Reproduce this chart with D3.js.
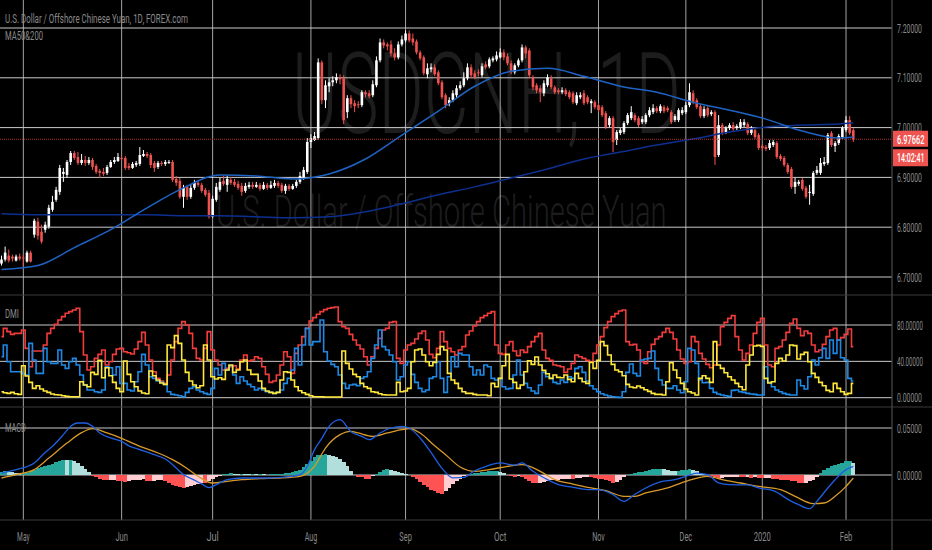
<!DOCTYPE html>
<html>
<head>
<meta charset="utf-8">
<script src="https://cdn.jsdelivr.net/npm/d3@7"></script>
<style>
  html, body { margin: 0; padding: 0; background: #000; }
  svg { display: block; }
  text { font-family: Roboto, "Liberation Sans", sans-serif; }
</style>
</head>
<body>
<svg id="chart" width="932" height="550"></svg>
<script>
// daily candles, May 2019 - Feb 2020
var opens = [6.727,6.735,6.743,6.741,6.733,6.741,6.739,6.731,6.749,6.785,
6.811,6.791,6.795,6.801,6.835,6.855,6.871,6.907,6.905,6.931,
6.949,6.941,6.929,6.935,6.929,6.935,6.923,6.913,6.911,6.909,
6.921,6.931,6.933,6.939,6.939,6.923,6.919,6.925,6.927,6.943,
6.947,6.945,6.929,6.921,6.929,6.927,6.929,6.931,6.897,6.893,
6.861,6.881,6.861,6.879,6.889,6.885,6.875,6.869,6.821,6.855,
6.875,6.893,6.885,6.895,6.891,6.887,6.883,6.873,6.881,6.885,
6.881,6.885,6.877,6.885,6.879,6.883,6.889,6.885,6.873,6.883,
6.877,6.883,6.891,6.899,6.911,6.971,6.975,6.979,7.131,7.055,
7.083,7.091,7.095,7.101,7.099,7.031,7.059,7.049,7.047,7.045,
7.071,7.069,7.065,7.085,7.135,7.171,7.167,7.167,7.149,7.141,
7.167,7.175,7.189,7.179,7.173,7.151,7.141,7.107,7.117,7.121,
7.111,7.091,7.065,7.049,7.055,7.065,7.079,7.085,7.099,7.121,
7.109,7.111,7.105,7.127,7.123,7.135,7.137,7.141,7.151,7.143,
7.129,7.111,7.125,7.135,7.161,7.155,7.101,7.085,7.079,7.069,
7.085,7.099,7.081,7.075,7.071,7.075,7.071,7.069,7.049,7.061,
7.069,7.061,7.049,7.051,7.045,7.041,7.029,7.005,7.019,6.975,
6.989,6.991,7.009,7.019,7.025,7.019,7.011,7.011,7.025,7.031,
7.039,7.033,7.041,7.039,7.031,7.015,7.015,7.029,7.031,7.045,
7.069,7.055,7.043,7.023,7.039,7.027,7.031,6.945,7.005,6.991,
6.999,7.005,6.999,7.001,7.005,7.007,6.989,6.995,6.985,6.963,
6.961,6.959,6.965,6.969,6.943,6.939,6.925,6.917,6.881,6.887,
6.895,6.879,6.869,6.867,6.909,6.909,6.927,6.929,6.989,6.963,
6.969,6.981,6.995,7.015,6.995];
var highs = [6.743,6.761,6.755,6.745,6.745,6.747,6.745,6.753,6.753,6.817,
6.819,6.805,6.811,6.845,6.863,6.881,6.925,6.919,6.935,6.953,
6.953,6.951,6.947,6.943,6.941,6.939,6.927,6.917,6.919,6.925,
6.935,6.941,6.949,6.943,6.943,6.929,6.931,6.933,6.961,6.955,
6.951,6.949,6.933,6.933,6.933,6.935,6.935,6.935,6.903,6.899,
6.885,6.885,6.887,6.895,6.895,6.889,6.879,6.875,6.863,6.889,
6.899,6.903,6.903,6.901,6.897,6.893,6.889,6.889,6.891,6.891,
6.891,6.889,6.891,6.889,6.893,6.895,6.893,6.889,6.887,6.887,
6.887,6.895,6.911,6.921,6.979,6.987,6.991,7.139,7.135,7.095,
7.099,7.103,7.109,7.107,7.105,7.065,7.065,7.055,7.053,7.075,
7.075,7.075,7.095,7.143,7.179,7.177,7.171,7.175,7.159,7.173,
7.185,7.195,7.195,7.189,7.177,7.155,7.145,7.129,7.129,7.127,
7.115,7.095,7.069,7.061,7.075,7.085,7.093,7.111,7.129,7.127,
7.115,7.117,7.129,7.133,7.141,7.143,7.153,7.159,7.157,7.149,
7.135,7.129,7.139,7.167,7.165,7.159,7.105,7.089,7.085,7.095,
7.107,7.105,7.085,7.079,7.081,7.079,7.075,7.073,7.071,7.071,
7.075,7.065,7.057,7.055,7.049,7.045,7.033,7.023,7.023,6.995,
6.999,7.013,7.029,7.043,7.029,7.023,7.023,7.029,7.041,7.047,
7.043,7.047,7.045,7.043,7.035,7.027,7.039,7.041,7.051,7.089,
7.075,7.059,7.047,7.043,7.043,7.035,7.035,7.025,7.009,7.003,
7.009,7.011,7.007,7.017,7.017,7.011,7.003,6.999,6.989,6.967,
6.965,6.975,6.975,6.973,6.947,6.943,6.929,6.921,6.899,6.895,
6.899,6.883,6.885,6.913,6.923,6.939,6.941,6.989,6.993,6.973,
6.987,7.003,7.023,7.023,6.999];
var lows = [6.723,6.731,6.729,6.731,6.731,6.733,6.721,6.729,6.729,6.779,
6.775,6.767,6.789,6.797,6.831,6.851,6.865,6.891,6.899,6.925,
6.935,6.925,6.925,6.923,6.925,6.915,6.907,6.899,6.903,6.905,
6.919,6.927,6.931,6.933,6.915,6.915,6.917,6.921,6.923,6.941,
6.939,6.919,6.911,6.917,6.923,6.923,6.927,6.891,6.883,6.857,
6.839,6.855,6.857,6.875,6.881,6.869,6.861,6.817,6.819,6.851,
6.871,6.883,6.871,6.885,6.881,6.875,6.863,6.869,6.877,6.877,
6.879,6.873,6.875,6.875,6.877,6.879,6.879,6.869,6.867,6.873,
6.875,6.879,6.887,6.895,6.907,6.959,6.973,6.975,7.047,7.039,
7.071,7.083,7.089,7.087,7.007,7.019,7.039,7.031,7.039,7.041,
7.061,7.059,7.061,7.081,7.131,7.159,7.155,7.143,7.135,7.137,
7.163,7.171,7.171,7.165,7.147,7.135,7.105,7.099,7.111,7.103,
7.085,7.057,7.039,7.043,7.051,7.059,7.075,7.081,7.095,7.099,
7.097,7.103,7.101,7.117,7.119,7.131,7.133,7.139,7.135,7.125,
7.107,7.107,7.121,7.131,7.139,7.099,7.075,7.069,7.051,7.063,
7.081,7.077,7.067,7.067,7.067,7.063,7.057,7.047,7.045,7.057,
7.045,7.047,7.029,7.037,7.031,7.021,6.997,7.001,6.951,6.965,
6.985,6.987,7.005,7.015,7.011,7.001,7.007,7.007,7.021,7.027,
7.029,7.029,7.029,7.031,7.007,7.011,7.011,7.025,7.027,7.041,
7.047,7.037,7.019,7.019,7.021,7.023,6.925,6.941,6.985,6.987,
6.995,6.993,6.995,6.997,7.001,6.985,6.985,6.977,6.955,6.955,
6.953,6.955,6.961,6.937,6.933,6.921,6.907,6.877,6.867,6.883,
6.873,6.857,6.845,6.863,6.905,6.905,6.923,6.925,6.961,6.951,
6.965,6.977,6.991,6.985,6.971];
var closes = [6.735,6.749,6.733,6.737,6.741,6.737,6.737,6.749,6.731,6.813,
6.783,6.771,6.805,6.839,6.851,6.875,6.919,6.911,6.931,6.949,
6.939,6.929,6.935,6.929,6.935,6.921,6.911,6.909,6.907,6.921,
6.931,6.935,6.941,6.937,6.919,6.919,6.927,6.929,6.945,6.947,
6.943,6.925,6.919,6.929,6.927,6.931,6.931,6.895,6.889,6.861,
6.879,6.861,6.879,6.889,6.885,6.873,6.865,6.821,6.857,6.881,
6.891,6.887,6.897,6.889,6.885,6.879,6.871,6.883,6.885,6.881,
6.885,6.877,6.885,6.879,6.885,6.889,6.883,6.873,6.883,6.877,
6.883,6.891,6.903,6.915,6.971,6.979,6.983,7.131,7.055,7.085,
7.091,7.095,7.101,7.097,7.015,7.059,7.047,7.043,7.045,7.071,
7.067,7.063,7.087,7.135,7.171,7.165,7.163,7.149,7.141,7.167,
7.177,7.189,7.175,7.171,7.151,7.139,7.109,7.119,7.121,7.107,
7.089,7.061,7.045,7.055,7.069,7.079,7.085,7.099,7.121,7.105,
7.101,7.109,7.123,7.121,7.137,7.139,7.145,7.151,7.141,7.129,
7.111,7.125,7.135,7.161,7.149,7.105,7.081,7.075,7.071,7.089,
7.101,7.081,7.071,7.071,7.075,7.067,7.061,7.051,7.065,7.065,
7.049,7.051,7.053,7.041,7.035,7.025,7.001,7.019,6.971,6.991,
6.995,7.009,7.025,7.031,7.015,7.005,7.017,7.025,7.035,7.039,
7.033,7.043,7.033,7.035,7.011,7.023,7.035,7.035,7.045,7.071,
7.051,7.041,7.023,7.037,7.025,7.031,6.941,7.005,6.989,6.999,
7.005,6.997,7.003,7.011,7.011,6.989,6.997,6.981,6.959,6.959,
6.957,6.969,6.971,6.941,6.937,6.925,6.911,6.881,6.891,6.891,
6.877,6.861,6.871,6.909,6.915,6.929,6.931,6.985,6.965,6.969,
6.983,6.999,7.015,6.989,6.97662];

// moving averages, read at every tenth bar
var maIdx = [0,10,20,30,40,50,60,70,80,90,100,110,120,130,140,150,160,170,180,190,200,210,220,230,234];
var ma50 = [6.715,6.723,6.759,6.795,6.839,6.879,6.905,6.903,6.897,6.907,6.937,6.985,7.033,7.083,7.113,7.119,7.103,7.083,7.071,7.051,7.035,7.017,6.993,6.979,6.981];
var ma200 = [6.827,6.825,6.825,6.825,6.825,6.823,6.823,6.821,6.819,6.821,6.831,6.847,6.865,6.881,6.899,6.917,6.937,6.951,6.965,6.977,6.991,7.001,7.005,7.007,7.009];

// DMI
var dmiRed = [67.2,76.3,72.7,69.7,70.8,70.8,74.5,54.3,34.1,51.4,
51.4,51.4,58.0,70.8,76.3,80.7,85.5,89.2,92.9,94.7,
96.5,98.4,72.7,47.0,30.5,34.1,43.3,47.7,52.5,36.0,
39.6,47.7,53.6,54.3,50.6,49.5,48.1,53.6,61.7,71.9,
58.0,41.5,28.6,21.3,18.4,15.8,25.0,41.5,61.7,76.3,
83.7,80.0,70.8,54.3,43.3,41.5,54.3,72.7,52.5,41.5,
36.0,30.5,32.3,34.1,35.2,31.6,41.5,47.0,40.4,41.5,
45.1,43.3,34.1,25.7,16.9,18.4,25.0,36.0,50.6,45.1,
26.8,48.8,58.0,67.2,76.3,84.4,88.1,91.8,94.7,96.9,
98.4,99.1,99.8,83.7,78.2,76.3,69.7,63.5,58.0,53.6,
45.1,36.0,45.1,54.3,65.3,74.5,76.3,82.9,83.7,43.3,
37.8,52.5,58.0,59.8,64.6,70.8,73.4,63.5,47.7,44.0,
54.3,72.7,61.7,54.3,50.6,47.0,52.5,56.2,69.0,73.4,
78.9,83.7,88.1,90.3,92.9,94.7,58.0,48.8,47.7,58.0,
61.7,51.4,46.2,52.5,49.9,56.2,61.7,67.2,70.8,52.5,
43.3,41.1,36.0,35.2,34.1,27.9,31.6,37.8,47.0,45.1,
43.3,41.1,39.6,48.8,58.0,67.2,77.1,83.7,89.2,92.5,
95.4,96.5,61.7,58.0,58.7,52.5,39.6,37.8,50.6,58.7,
64.6,67.2,71.9,76.3,71.9,64.6,52.5,42.6,37.8,39.6,
67.2,61.7,48.8,42.6,36.7,33.0,36.0,58.0,78.2,82.9,
87.3,90.3,67.2,52.5,41.5,48.8,58.0,70.8,82.9,87.3,
58.0,36.0,34.1,54.3,56.2,63.5,71.9,81.8,86.6,76.3,
68.3,73.4,70.8,58.0,50.6,52.5,58.7,67.2,74.5,76.3,
63.5,66.1,69.7,75.6,56.2];
var dmiBlue = [45.1,58.0,39.6,28.6,28.6,28.6,26.8,25.0,59.8,41.5,
26.8,26.8,54.3,39.6,37.8,37.8,52.5,36.0,32.3,39.6,
43.3,36.0,25.0,13.9,8.4,8.4,6.6,5.9,8.4,34.1,
33.0,25.0,34.1,15.8,15.8,8.4,7.3,17.6,28.6,47.7,
36.0,23.1,21.3,18.4,16.9,14.7,6.6,3.7,2.9,2.2,
1.1,5.9,10.3,12.1,8.4,6.6,4.8,3.7,10.3,32.3,
25.0,37.8,30.5,35.2,25.0,15.8,23.1,18.4,14.7,12.1,
8.4,10.3,8.4,6.6,5.9,4.8,5.9,8.4,15.8,21.3,
30.5,54.3,36.0,58.0,76.3,58.0,61.7,61.7,85.5,50.6,
40.4,36.7,34.1,25.0,15.8,10.3,13.9,14.7,13.2,21.3,
23.1,28.6,43.3,58.0,74.5,56.2,52.5,47.0,39.6,19.5,
23.1,36.0,39.6,25.7,16.9,10.3,6.6,8.4,21.3,23.1,
39.6,21.3,5.9,23.1,45.1,34.1,48.8,47.0,47.0,34.1,
25.0,30.5,25.0,36.0,34.1,21.3,19.5,21.3,12.1,9.5,
10.3,25.0,41.5,25.0,15.8,11.0,7.3,4.8,13.9,27.9,
23.1,21.3,16.9,15.4,19.5,16.9,23.1,21.3,32.3,34.1,
27.9,18.4,13.2,9.5,6.6,4.4,2.9,1.8,1.1,0.7,
0.4,6.6,27.9,37.1,26.8,23.9,41.5,42.6,43.3,51.4,
32.3,19.5,13.9,10.3,10.3,13.2,8.4,5.5,17.6,54.3,
52.5,37.8,19.5,16.5,16.9,10.3,5.9,4.0,2.9,2.2,
1.5,8.1,8.4,6.6,5.9,4.8,4.0,3.7,2.9,2.9,
34.1,16.9,12.1,8.4,6.6,4.8,3.7,2.9,2.9,19.5,
13.2,9.5,23.1,41.5,36.0,44.0,54.3,43.3,63.5,48.8,
63.5,44.0,41.5,21.3,18.4];
var dmiYellow = [6.6,5.5,4.8,5.9,4.4,3.7,35.2,23.9,16.9,10.3,
13.2,9.5,7.3,5.9,4.0,3.3,2.9,2.2,1.5,1.1,
1.1,1.1,17.6,13.9,12.1,27.9,25.7,41.1,22.0,33.0,
24.2,16.9,10.3,6.6,40.4,25.7,17.6,12.1,7.3,5.1,
4.4,29.4,24.2,19.5,16.1,14.7,58.0,55.1,68.3,59.8,
41.5,27.9,18.4,13.9,11.0,13.2,58.0,41.5,23.1,20.6,
22.0,20.2,30.5,36.0,27.9,30.5,39.6,41.5,30.5,25.7,
25.7,18.4,10.3,7.3,5.9,4.8,5.9,19.5,28.6,27.9,
19.5,12.1,7.7,5.5,3.7,2.2,1.1,1.1,1.1,0.7,
0.7,0.7,0.7,0.7,51.4,37.8,31.6,25.7,23.1,15.8,
12.1,10.3,6.6,5.9,4.4,3.3,2.9,2.9,2.9,16.9,
6.6,7.3,10.3,39.6,52.5,53.6,47.0,39.6,35.2,38.9,
47.7,56.2,52.5,26.8,19.5,15.8,10.3,6.6,4.8,4.8,
3.7,2.9,2.9,2.9,2.2,15.8,12.1,21.3,35.2,47.7,
20.6,16.9,10.3,13.9,28.6,40.7,36.7,44.8,36.0,30.1,
26.4,21.3,25.0,22.4,22.0,25.0,20.2,17.6,26.8,21.3,
17.6,15.8,38.9,32.3,41.1,61.7,57.3,47.0,36.7,30.5,
28.6,24.2,14.7,11.7,11.0,12.8,11.0,8.8,7.0,4.8,
3.7,3.7,2.9,17.6,38.5,30.5,22.0,15.8,9.5,6.6,
5.1,2.9,21.3,24.2,21.3,16.9,61.7,36.0,32.3,27.5,
23.1,19.5,15.8,12.1,8.8,36.0,47.0,56.9,57.6,56.5,
21.3,16.1,17.6,37.8,43.3,40.4,47.0,58.0,57.3,42.6,
47.7,49.9,39.6,26.8,22.4,16.9,13.2,8.1,6.6,15.8,
10.3,6.6,3.7,4.8,15.8];

// MACD
var macdIdx = [0,4,9,12,14,17,19,21,23,25,27,30,33,35,38,42,45,47,50,53,55,57,59,62,66,73,77,82,84,86,88,90,93,96,99,101,104,107,110,112,115,118,121,124,127,130,133,137,141,143,146,150,153,157,161,164,168,171,174,177,181,185,188,191,194,197,200,205,208,212,217,219,222,224,227,229,232,234];
var macdVals = [0.0021,0.0057,0.0128,0.024,0.0305,0.0429,0.0518,0.0553,0.0553,0.0518,0.0447,0.0394,0.0358,0.031,0.027,0.0216,0.017,0.011,0.0004,-0.0055,-0.0095,-0.0135,-0.0103,-0.005,-0.0032,-0.0032,-0.0025,0.0004,0.0092,0.027,0.039,0.0518,0.0589,0.046,0.041,0.0376,0.0447,0.05,0.0518,0.05,0.0394,0.024,0.007,-0.003,-0.0025,0.0045,0.009,0.0128,0.0105,0.0128,0.0039,-0.005,-0.0103,-0.0131,-0.0156,-0.0156,-0.0209,-0.028,-0.0205,-0.0138,-0.0074,-0.005,-0.0014,0.0021,0.0004,-0.0085,-0.0103,-0.0105,-0.0138,-0.0167,-0.028,-0.0316,-0.0358,-0.028,-0.0138,-0.005,0.0057,0.0092];
var sigIdx = [0,4,9,13,18,22,25,29,33,38,43,47,51,54,58,62,66,71,76,82,86,89,93,96,98,102,106,110,112,115,119,122,126,130,134,139,143,148,152,157,162,166,171,174,177,183,188,194,198,203,208,214,218,223,226,229,232,234];
var sigVals = [-0.0032,0.0004,0.0057,0.018,0.034,0.045,0.0493,0.0447,0.039,0.0305,0.0234,0.0163,0.007,-0.0014,-0.0085,-0.0067,-0.005,-0.0039,-0.0032,-0.0014,0.0095,0.0287,0.0429,0.0465,0.0447,0.0411,0.0447,0.0482,0.0493,0.0447,0.031,0.0216,0.0085,0.0039,0.0057,0.0092,0.011,0.0039,-0.005,-0.0096,-0.0138,-0.0167,-0.0227,-0.0227,-0.0191,-0.0138,-0.0067,-0.0014,-0.005,-0.0085,-0.0121,-0.0156,-0.0227,-0.0305,-0.0298,-0.0227,-0.0121,-0.0032];
var histVals = [0.0032,0.0039,0.0032,0.0028,0.0025,0.0018,0.0021,0.0025,0.0039,0.0057,
0.0074,0.0085,0.0096,0.011,0.0121,0.0135,0.0149,0.0163,0.0156,0.0156,
0.0149,0.0124,0.0099,0.0064,0.0028,-0.0007,-0.0021,-0.0039,-0.0053,-0.0057,
-0.0053,-0.005,-0.006,-0.0067,-0.0074,-0.006,-0.0057,-0.0053,-0.005,-0.0046,
-0.006,-0.0067,-0.006,-0.0053,-0.005,-0.006,-0.0085,-0.0103,-0.0117,-0.0131,
-0.0135,-0.0131,-0.0121,-0.0103,-0.0092,-0.0082,-0.0089,-0.006,-0.0039,-0.0021,
-0.0007,0.0011,0.0014,0.0018,0.0014,0.0011,0.0014,0.0011,0.0007,0.0011,
0.0007,0.0011,0.0007,0.0004,0.0007,0.0007,0.0011,0.0014,0.0018,0.0021,
0.0028,0.0039,0.0057,0.0082,0.0117,0.0152,0.0188,0.0209,0.0216,0.0223,
0.0209,0.0199,0.0188,0.0174,0.0135,0.0092,0.0046,0.0004,-0.0018,-0.0025,
-0.0039,-0.0046,-0.0014,0.0011,0.0032,0.0053,0.006,0.0053,0.0046,0.0032,
0.0018,0.0011,0.0004,-0.0018,-0.0046,-0.0074,-0.0103,-0.0131,-0.0156,-0.0174,
-0.0191,-0.0202,-0.0174,-0.0138,-0.0096,-0.006,-0.0039,-0.0014,0.0004,0.0014,
0.0021,0.0025,0.0028,0.0035,0.0039,0.0043,0.0043,0.0028,0.0018,0.0004,
-0.0011,-0.0018,-0.0011,-0.0021,-0.0039,-0.006,-0.0082,-0.0089,-0.0082,-0.0071,
-0.006,-0.0057,-0.0053,-0.005,-0.0046,-0.0043,-0.0039,-0.0046,-0.0035,-0.0028,
-0.0025,-0.0021,-0.0025,-0.0032,-0.0039,-0.0046,-0.0053,-0.0067,-0.0082,-0.0074,
-0.0053,-0.0025,0,0.0014,0.0021,0.0028,0.0035,0.0046,0.0057,0.0064,
0.0067,0.0067,0.006,0.0053,0.0046,0.0043,0.0046,0.005,0.0053,0.006,
0.0057,0.0043,0.0025,0.0011,0.0004,-0.0011,-0.0025,-0.0039,-0.0032,-0.0025,
-0.0021,-0.0018,-0.0018,-0.0021,-0.0025,-0.0025,-0.0028,-0.0025,-0.0028,-0.0032,
-0.0032,-0.0032,-0.0039,-0.0046,-0.005,-0.0053,-0.0057,-0.006,-0.0067,-0.0082,
-0.0089,-0.0082,-0.0067,-0.0053,-0.0025,0.0018,0.0053,0.0074,0.0096,0.011,
0.0121,0.0128,0.0145,0.0145,0.0128];

// axes
var monthIdx = [6,33,58,85,111,137,164,188,209,232];
var monthLabels = ["May","Jun","Jul","Aug","Sep","Oct","Nov","Dec","2020","Feb"];
var priceTicks = [6.7,6.8,6.9,7.0,7.1,7.2];
var dmiTicks = [0,40,80];
var macdTicks = [0,0.05];

var W = 932, H = 550, plotR = 892;
var svg = d3.select("#chart");
svg.append("rect").attr("width", W).attr("height", H).attr("fill", "#000");

var n = closes.length;
var x = d3.scaleLinear().domain([0, n - 1]).range([1.5, 853.3]);
var yP = d3.scaleLinear().domain([6.7, 7.2]).range([277, 28]);
var yD = d3.scaleLinear().domain([0, 80]).range([397.7, 325]);
var yM = d3.scaleLinear().domain([0, 0.05]).range([475, 428]);

var grey = "#8a8a8a";

// the screenshot is squeezed sideways, so squeeze each text to the width it has there
function label(g, tx, ty, str, size, len, fill, anchor) {
  var t = g.append("text").attr("font-size", size).attr("fill", fill || grey)
    .attr("text-anchor", anchor || "start").text(str);
  var k = len / t.node().getComputedTextLength();
  t.attr("transform", "translate(" + tx + "," + ty + ") scale(" + k.toFixed(3) + ",1)");
  return t;
}

// watermark
var wm = svg.append("g");
label(wm, 292, 133, "USDCNH, 1D", 114, 390, "#1d1d1d").attr("font-weight", 300);
label(wm, 216, 227, "U.S. Dollar / Offshore Chinese Yuan", 45, 459, "#1d1d1d").attr("font-weight", 300);

// grid
var grid = svg.append("g");
grid.selectAll(".vg").data(monthIdx).enter().append("line")
  .attr("x1", function(d){ return x(d); }).attr("x2", function(d){ return x(d); })
  .attr("y1", 0).attr("y2", 520).attr("stroke", "#a4a4a4").attr("stroke-width", 1);
function hgrid(ticks, sc) {
  grid.selectAll(null).data(ticks).enter().append("line")
    .attr("x1", 0).attr("x2", plotR)
    .attr("y1", function(d){ return sc(d); }).attr("y2", function(d){ return sc(d); })
    .attr("stroke", "#cacaca").attr("stroke-width", 1);
}
hgrid(priceTicks, yP);
hgrid(dmiTicks, yD);
hgrid(macdTicks, yM);

// panel borders
[295, 407, 520].forEach(function(yy){
  svg.append("line").attr("x1", 0).attr("x2", W).attr("y1", yy).attr("y2", yy)
    .attr("stroke", "#3a3a3a").attr("stroke-width", 1.2);
});
svg.append("line").attr("x1", plotR).attr("x2", plotR).attr("y1", 0).attr("y2", H)
  .attr("stroke", "#4a4a4a").attr("stroke-width", 1.2);

// candles
var upC = "#ffffff", dnC = "#ef5350";
var cg = svg.append("g");
d3.range(n).forEach(function(i){
  var col = closes[i] >= opens[i] ? upC : dnC;
  cg.append("line").attr("x1", x(i)).attr("x2", x(i))
    .attr("y1", yP(highs[i])).attr("y2", yP(lows[i]))
    .attr("stroke", col).attr("stroke-width", 1);
  var top = yP(Math.max(opens[i], closes[i])), bot = yP(Math.min(opens[i], closes[i]));
  cg.append("rect").attr("x", x(i) - 1.3).attr("width", 2.6)
    .attr("y", top).attr("height", Math.max(1, bot - top)).attr("fill", col);
});

// moving averages
var maLine = d3.line().x(function(d){ return x(d[0]); }).y(function(d){ return yP(d[1]); })
  .curve(d3.curveMonotoneX);
svg.append("path").datum(d3.zip(maIdx, ma200)).attr("d", maLine)
  .attr("fill", "none").attr("stroke", "#0d2f8f").attr("stroke-width", 1.5);
svg.append("path").datum(d3.zip(maIdx, ma50)).attr("d", maLine)
  .attr("fill", "none").attr("stroke", "#1e63c4").attr("stroke-width", 1.5);

// last price line
var last = closes[n - 1];
svg.append("line").attr("x1", 0).attr("x2", plotR).attr("y1", yP(last)).attr("y2", yP(last))
  .attr("stroke", "#b0302c").attr("stroke-width", 1).attr("stroke-dasharray", "1,1");

// DMI
var dLine = d3.line().x(function(d, i){ return x(i); }).y(function(d){ return yD(d); })
  .curve(d3.curveStep);
[[dmiRed, "#f23c3c"], [dmiBlue, "#1e88e5"], [dmiYellow, "#ffe83b"]].forEach(function(s){
  svg.append("path").datum(s[0]).attr("d", dLine).attr("fill", "none")
    .attr("stroke", s[1]).attr("stroke-width", 1.6);
});

// MACD histogram
var hg = svg.append("g").attr("shape-rendering", "crispEdges");
histVals.forEach(function(v, i){
  var prev = i > 0 ? histVals[i - 1] : v;
  var col = v >= 0 ? (v >= prev ? "#26a69a" : "#b2dfdb") : (v < prev ? "#ff5252" : "#ffcdd2");
  var y0 = yM(0), y1 = yM(v);
  hg.append("rect").attr("x", x(i) - 1.9).attr("width", 3.9)
    .attr("y", Math.min(y0, y1)).attr("height", Math.abs(y1 - y0)).attr("fill", col);
});
var mLine = d3.line().x(function(d){ return x(d[0]); }).y(function(d){ return yM(d[1]); })
  .curve(d3.curveMonotoneX);
svg.append("path").datum(d3.zip(sigIdx, sigVals)).attr("d", mLine)
  .attr("fill", "none").attr("stroke", "#d99a2b").attr("stroke-width", 1.3);
svg.append("path").datum(d3.zip(macdIdx, macdVals)).attr("d", mLine)
  .attr("fill", "none").attr("stroke", "#1f5fe0").attr("stroke-width", 1.3);

// pane titles
var tg = svg.append("g");
label(tg, 5, 23, "U.S. Dollar / Offshore Chinese Yuan, 1D, FOREX.com", 12.5, 183);
label(tg, 5, 40, "MA50&200", 12.5, 38);
label(tg, 5, 318, "DMI", 12.5, 14);
label(tg, 5, 432, "MACD", 12.5, 21);

// right scale
var ag = svg.append("g");
var f5 = d3.format(".5f");
priceTicks.forEach(function(v){ label(ag, 897, yP(v) + 4.5, f5(v), 13, 25); });
dmiTicks.forEach(function(v){ var s = f5(v); label(ag, 897, yD(v) + 4.5, s, 13, s.length > 7 ? 26 : 25); });
macdTicks.forEach(function(v){ label(ag, 897, yM(v) + 4.5, f5(v), 13, 25); });

// last price tag and countdown
ag.append("rect").attr("x", 893).attr("y", yP(last) - 8.5).attr("width", 35).attr("height", 16)
  .attr("fill", "#ef5350");
label(ag, 897, yP(last) + 4.5, f5(last), 13, 27, "#ffffff").attr("font-weight", 500);
ag.append("rect").attr("x", 893).attr("y", yP(last) + 10).attr("width", 35).attr("height", 17)
  .attr("fill", "#ef5350");
label(ag, 897, yP(last) + 23, "14:02:41", 13, 27, "#ffffff").attr("font-weight", 500);

// time axis
monthIdx.forEach(function(d, i){
  var s = monthLabels[i];
  label(ag, x(d), 541, s, 12.5, s.length > 3 ? 17 : 12.5, grey, "middle");
});
</script>
</body>
</html>
